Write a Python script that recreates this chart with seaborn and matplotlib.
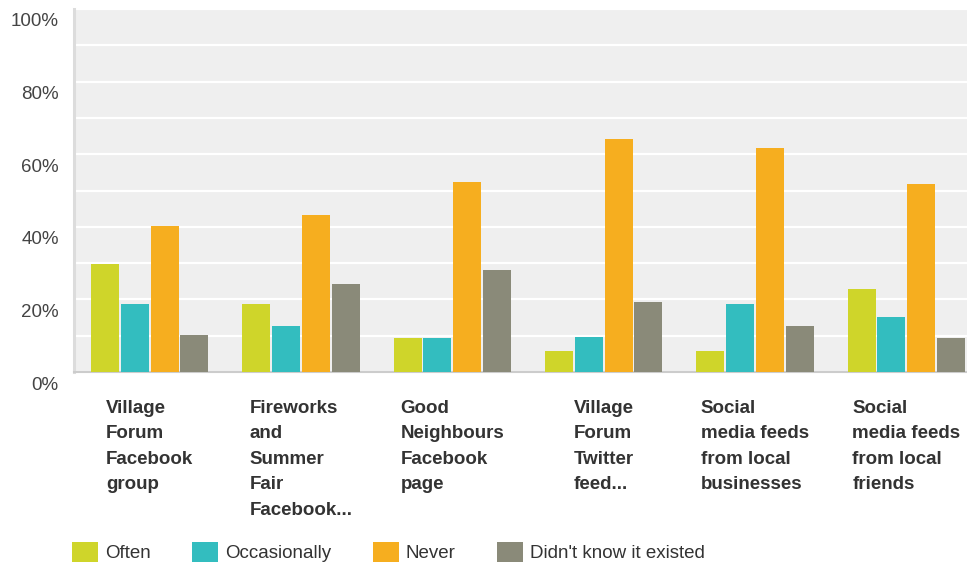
import matplotlib
matplotlib.use("Agg")
import matplotlib.pyplot as plt
import matplotlib.transforms as mtrans
from matplotlib.patches import Patch
import seaborn as sns
import pandas as pd

categories = [
    "Village Forum Facebook group",
    "Fireworks and Summer Fair Facebook...",
    "Good Neighbours Facebook page",
    "Village Forum Twitter feed...",
    "Social media feeds from local businesses",
    "Social media feeds from local friends",
]
category_labels = [
    "Village\nForum\nFacebook\ngroup",
    "Fireworks\nand\nSummer\nFair\nFacebook...",
    "Good\nNeighbours\nFacebook\npage",
    "Village\nForum\nTwitter\nfeed...",
    "Social\nmedia feeds\nfrom local\nbusinesses",
    "Social\nmedia feeds\nfrom local\nfriends",
]
series = ["Often", "Occasionally", "Never", "Didn't know it existed"]
often = [29.8, 18.7, 9.4, 5.8, 5.8, 22.9]
occasionally = [18.7, 12.7, 9.4, 9.6, 18.7, 15.2]
never = [40.2, 43.2, 52.3, 64.2, 61.7, 51.8]
didnt_know = [10.2, 24.2, 28.1, 19.3, 12.7, 9.4]
colors = ["#CFD52A", "#33BDBF", "#F6AE1F", "#8A8A79"]
y_ticks = [0, 20, 40, 60, 80, 100]
y_tick_labels = ["0%", "20%", "40%", "60%", "80%", "100%"]

rows = []
for s, vals in zip(series, [often, occasionally, never, didnt_know]):
    for c, v in zip(categories, vals):
        rows.append({"category": c, "series": s, "value": v})
df = pd.DataFrame(rows)

plt.rcParams["font.family"] = ["Liberation Sans", "DejaVu Sans"]

W, H = 967, 565
fig = plt.figure(figsize=(W / 100, H / 100), dpi=100)
ax = fig.add_axes([74 / W, 1 - 372 / H, 908 / W, (372 - 9) / H])
ax.set_facecolor("#EFEFEF")

sns.barplot(data=df, x="category", y="value", hue="series", order=categories,
            hue_order=series, palette=colors, saturation=1, width=0.786, gap=0.06,
            linewidth=0, errorbar=None, legend=False, ax=ax, zorder=3)

ax.set_ylim(0, 100)
ax.set_yticks(y_ticks)
ax.set_yticklabels(y_tick_labels, fontsize=13.5, color="#444444")
ax.set_yticks(list(range(10, 100, 20)), minor=True)
ax.grid(True, axis="y", which="both", color="white", linewidth=1.6, zorder=0)
ax.grid(False, axis="x")
ax.set_axisbelow(True)
ax.set_xlabel("")
ax.set_ylabel("")

ax.set_xticks(range(len(categories)))
ax.set_xticklabels(category_labels, fontsize=13.5, fontweight="bold", color="#333333",
                   ha="center", va="top", multialignment="left", linespacing=1.65)
ax.tick_params(axis="x", length=0, pad=20)
ax.tick_params(axis="y", which="both", length=0, pad=11)

offset = mtrans.ScaledTranslation(0, -0.11, fig.dpi_scale_trans)
for lab in ax.get_yticklabels():
    lab.set_transform(lab.get_transform() + offset)

for sp in ["top", "right"]:
    ax.spines[sp].set_visible(False)
ax.spines["left"].set_color("#DCDCDC")
ax.spines["left"].set_linewidth(2.2)
ax.spines["bottom"].set_color("#CCCCCC")
ax.spines["bottom"].set_linewidth(1.5)

handles = [Patch(facecolor=c, edgecolor="none") for c in colors]
fig.legend(handles, series, loc="center left", bbox_to_anchor=(72 / W, 1 - 552 / H),
           ncol=4, frameon=False, fontsize=13.5, handlelength=1.4, handleheight=1.3,
           handletextpad=0.37, columnspacing=2.2, borderaxespad=0, borderpad=0,
           labelcolor="#333333")

fig.savefig("out.png", dpi=100)
